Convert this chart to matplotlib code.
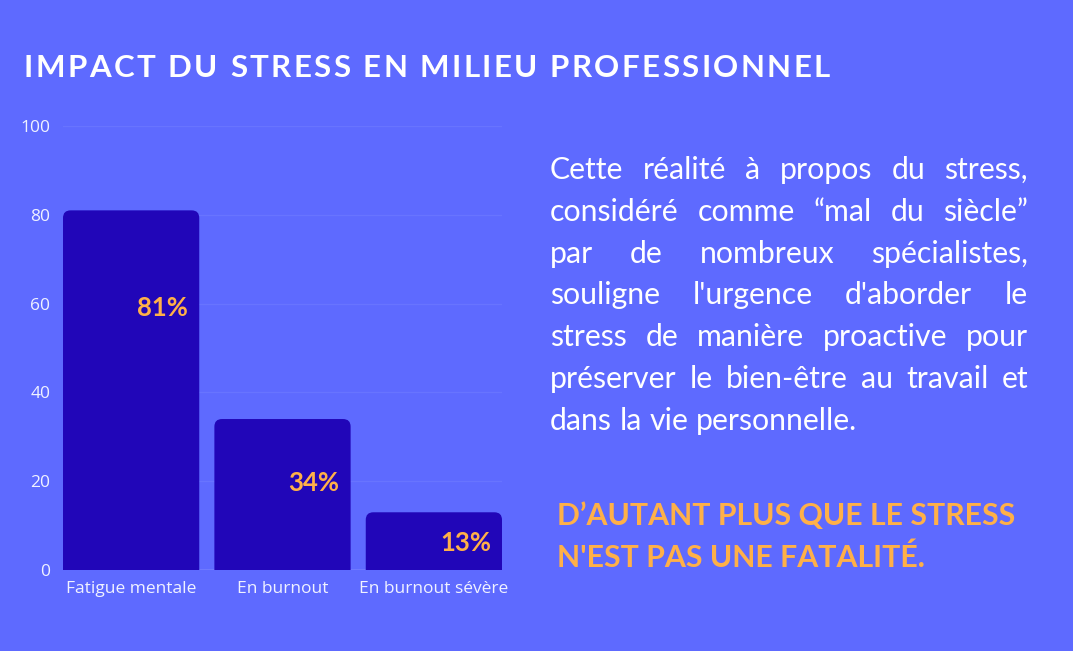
import matplotlib
matplotlib.use('Agg')
import matplotlib.pyplot as plt
from matplotlib.patches import FancyBboxPatch

# chart data
categories = ['Fatigue mentale', 'En burnout', 'En burnout sévère']
values = [81, 34, 13]
value_labels = ['81%', '34%', '13%']
yticks = [0, 20, 40, 60, 80, 100]

title = 'IMPACT DU STRESS EN MILIEU PROFESSIONNEL'
body_lines = [
    'Cette réalité à propos du stress,',
    'considéré comme “mal du siècle”',
    'par de nombreux spécialistes,',
    "souligne l'urgence d'aborder le",
    'stress de manière proactive pour',
    'préserver le bien-être au travail et',
    'dans la vie personnelle.',
]
highlight_lines = ['D’AUTANT PLUS QUE LE STRESS', "N'EST PAS UNE FATALITÉ."]

# colours
BG = '#5E6AFF'
BAR = '#2106B8'
ORANGE = '#FFB048'
GRID = '#6874FF'

W, H = 1073, 651
fig = plt.figure(figsize=(W / 100, H / 100), dpi=100)
fig.patch.set_facecolor(BG)
renderer = fig.canvas.get_renderer()


def px(x, y):
    """pixel coords (top-left origin) -> figure fraction"""
    return x / W, 1 - y / H


def text_width(s, **kw):
    t = fig.text(0, 0, s, **kw)
    w = t.get_window_extent(renderer).width
    t.remove()
    return w


# ---- title with letter spacing
title_kw = dict(family='Lato', weight='bold', fontsize=22.5, color='white')
x0, x1 = 24, 830
widths = [text_width(c, **title_kw) for c in title]
spacing = (x1 - x0 - sum(widths)) / (len(title) - 1)
x = x0
for c, w in zip(title, widths):
    fig.text(*px(x, 77), c, va='baseline', ha='left', **title_kw)
    x += w + spacing

# ---- bar chart
ax = fig.add_axes([63 / W, 1 - 570 / H, (502 - 63) / W, (570 - 126) / H])
ax.set_facecolor(BG)
bars = ax.bar(range(len(categories)), values, width=0.9, color=BAR, zorder=2)
ax.set_xlim(-0.45, len(categories) - 0.55)
ax.set_ylim(0, 100)

# swap the plain bars for ones with rounded top corners
# (they start below zero so the axes clip away the bottom rounding)
for b in bars:
    bx, bw, bh = b.get_x(), b.get_width(), b.get_height()
    b.set_visible(False)
    ax.add_patch(FancyBboxPatch((bx, -5), bw, bh + 5,
                                boxstyle='round,pad=0,rounding_size=0.05',
                                mutation_aspect=100 / 2.9 * (439 / 444),
                                fc=BAR, ec='none', zorder=2))

# value labels, right aligned inside the bars
label_y = [59, 19.5, 6]
for b, lab, ly in zip(bars, value_labels, label_y):
    ax.text(b.get_x() + b.get_width() - 0.073, ly, lab, ha='right', va='center',
            family='Lato', weight='bold', fontsize=18.5, color=ORANGE, zorder=3)

ax.set_yticks(yticks)
ax.set_xticks(range(len(categories)))
ax.set_xticklabels(categories)
ax.grid(axis='y', color=GRID, linewidth=1, zorder=0)
ax.axhline(0, color='#7580FF', linewidth=1.2, zorder=1)
for s in ax.spines.values():
    s.set_visible(False)
ax.tick_params(length=0, labelsize=12.5, labelcolor='#F0F2FF')
ax.tick_params(axis='y', pad=9)
ax.tick_params(axis='x', pad=8)
for t in ax.get_xticklabels() + ax.get_yticklabels():
    t.set_family('Open Sans')

# ---- justified paragraph
body_kw = dict(family='Lato', fontsize=21.8, color='white')
left, right = 550, 1028
space_w = text_width('a a', **body_kw) - 2 * text_width('a', **body_kw)
for i, line in enumerate(body_lines):
    y = 179 + i * 41.8
    words = line.split(' ')
    ws = [text_width(w_, **body_kw) for w_ in words]
    last = i == len(body_lines) - 1
    gap = space_w if last else (right - left - sum(ws)) / (len(words) - 1)
    x = left
    for w_, ww in zip(words, ws):
        fig.text(*px(x, y), w_, va='baseline', ha='left', **body_kw)
        x += ww + gap

# ---- highlighted conclusion
for i, line in enumerate(highlight_lines):
    fig.text(*px(557, 525 + i * 42), line, va='baseline', ha='left',
             family='Lato', weight='bold', fontsize=21.8, color=ORANGE)

fig.savefig('out.png', dpi=100, facecolor=BG)
